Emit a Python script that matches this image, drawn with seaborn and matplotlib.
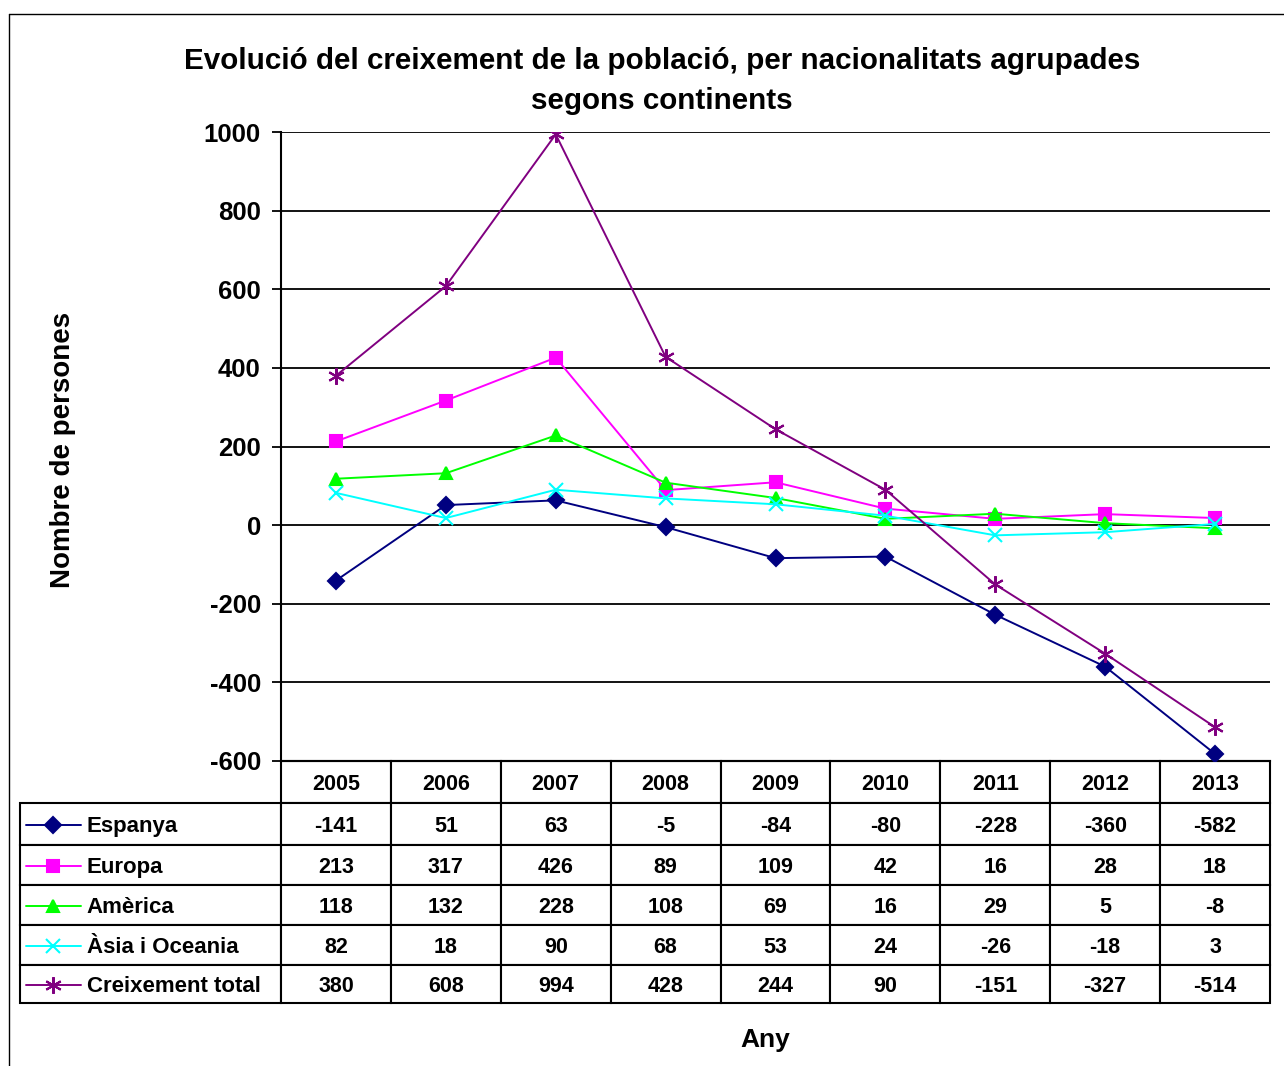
import pandas as pd
import matplotlib.pyplot as plt
import seaborn as sns
from matplotlib.lines import Line2D

years = ['2005', '2006', '2007', '2008', '2009', '2010', '2011', '2012', '2013']
espanya = [-141, 51, 63, -5, -84, -80, -228, -360, -582]
europa = [213, 317, 426, 89, 109, 42, 16, 28, 18]
america = [118, 132, 228, 108, 69, 16, 29, 5, -8]
asia = [82, 18, 90, 68, 53, 24, -26, -18, 3]
total = [380, 608, 994, 428, 244, 90, -151, -327, -514]

series_names = ['Espanya', 'Europa', 'Amèrica', 'Àsia i Oceania', 'Creixement total']
series_values = [espanya, europa, america, asia, total]

# Styles
colors = ['#000080', '#FF00FF', '#00FF00', '#00FFFF', '#800080']
markers = ['D', 's', '^', 'x', (6, 2, 0)]
msizes = [8, 8, 9, 10, 12]

sns.set_style('white')
plt.rcParams['font.family'] = ['Liberation Sans', 'DejaVu Sans']
plt.rcParams['font.weight'] = 'bold'
plt.rcParams['text.color'] = 'black'
plt.rcParams['axes.labelcolor'] = 'black'
plt.rcParams['axes.unicode_minus'] = False

# Long format for seaborn
rows = []
for name, vals in zip(series_names, series_values):
    for i, v in enumerate(vals):
        rows.append({'pos': i, 'value': v, 'serie': name})
df = pd.DataFrame(rows)

fig = plt.figure(figsize=(12.84, 10.66), dpi=100)
W, H = 1284, 1066
ax = fig.add_axes([281 / W, 1 - 761 / H, 989 / W, 629 / H])

for name, c, m, ms in zip(series_names, colors, markers, msizes):
    sub = df[df['serie'] == name]
    sns.lineplot(data=sub, x='pos', y='value', ax=ax, color=c, marker=m,
                 markersize=ms, markeredgecolor=c, markerfacecolor=c,
                 markeredgewidth=1.5, linewidth=1.4, zorder=3)

ax.set_xlim(-0.5, len(years) - 0.5)
ax.set_ylim(-600, 1000)
ax.set_yticks(range(-600, 1001, 200))
ax.set_xticks([])
ax.set_xlabel('')
ax.set_ylabel('')
ax.grid(axis='y', color='black', linewidth=1.3)
ax.grid(axis='x', visible=False)
for s in ['top', 'right']:
    ax.spines[s].set_visible(False)
for s in ['left', 'bottom']:
    ax.spines[s].set_color('black')
    ax.spines[s].set_linewidth(1.5)
ax.tick_params(axis='y', direction='out', length=6.5, width=1.3, pad=8,
               labelsize=18.5, colors='black', left=True)
for lbl in ax.get_yticklabels():
    lbl.set_fontweight('bold')

# Data table below the plot (row heights in pixels: header + 5 rows)
row_px = [42, 42, 40, 40, 40, 38]
tbl_px = sum(row_px)
tbl_h = tbl_px / 629
cell_text = [[str(v) for v in vals] for vals in series_values]
tbl = ax.table(cellText=cell_text, rowLabels=series_names, colLabels=years,
               cellLoc='center', rowLoc='left',
               bbox=[0, -tbl_h, 1, tbl_h])
tbl._autoColumns = []
tbl.auto_set_font_size(False)
tbl.set_fontsize(15.5)
for (r, c), cell in tbl.get_celld().items():
    cell.set_edgecolor('black')
    cell.set_linewidth(1.5)
    cell.set_height(row_px[r] / 100)
    cell.get_text().set_fontweight('bold')
    cell.get_text().set_verticalalignment('center_baseline')
    if c == -1:
        cell.set_width(2.375 / 9)
        cell.PAD = 0.255
        cell.get_text().set_fontsize(16)

# Legend keys inside the row-label cells
for i, (c, m, ms) in enumerate(zip(colors, markers, msizes)):
    top_px = sum(row_px[:i + 1])
    yc = -(top_px + row_px[i + 1] / 2 + 1) / 629
    ax.plot([-0.2578, -0.2022], [yc, yc], transform=ax.transAxes, clip_on=False,
            color=c, linewidth=1.4)
    ax.plot([-0.2305], [yc], transform=ax.transAxes, clip_on=False, color=c,
            marker=m, markersize=ms, markeredgecolor=c, markeredgewidth=1.5,
            linestyle='none')

# Titles and labels
fig.text(662 / W, 1 - 61 / H, 'Evolució del creixement de la població, per nacionalitats agrupades',
         ha='center', va='center', fontsize=21.3, fontweight='bold')
fig.text(662 / W, 1 - 101 / H, 'segons continents',
         ha='center', va='center', fontsize=21.3, fontweight='bold')
fig.text(63 / W, 1 - 450 / H, 'Nombre de persones', rotation=90,
         ha='center', va='center', fontsize=20, fontweight='bold')
fig.text(765 / W, 1 - 1040 / H, 'Any', ha='center', va='center',
         fontsize=19, fontweight='bold')

# Outer chart frame (partly cut off at right and bottom)
fig.add_artist(Line2D([9 / W, 9 / W], [0, 1 - 14 / H], transform=fig.transFigure,
                      color='black', linewidth=1))
fig.add_artist(Line2D([9 / W, 1], [1 - 14 / H, 1 - 14 / H], transform=fig.transFigure,
                      color='black', linewidth=1))

fig.savefig('out.png', dpi=100)
